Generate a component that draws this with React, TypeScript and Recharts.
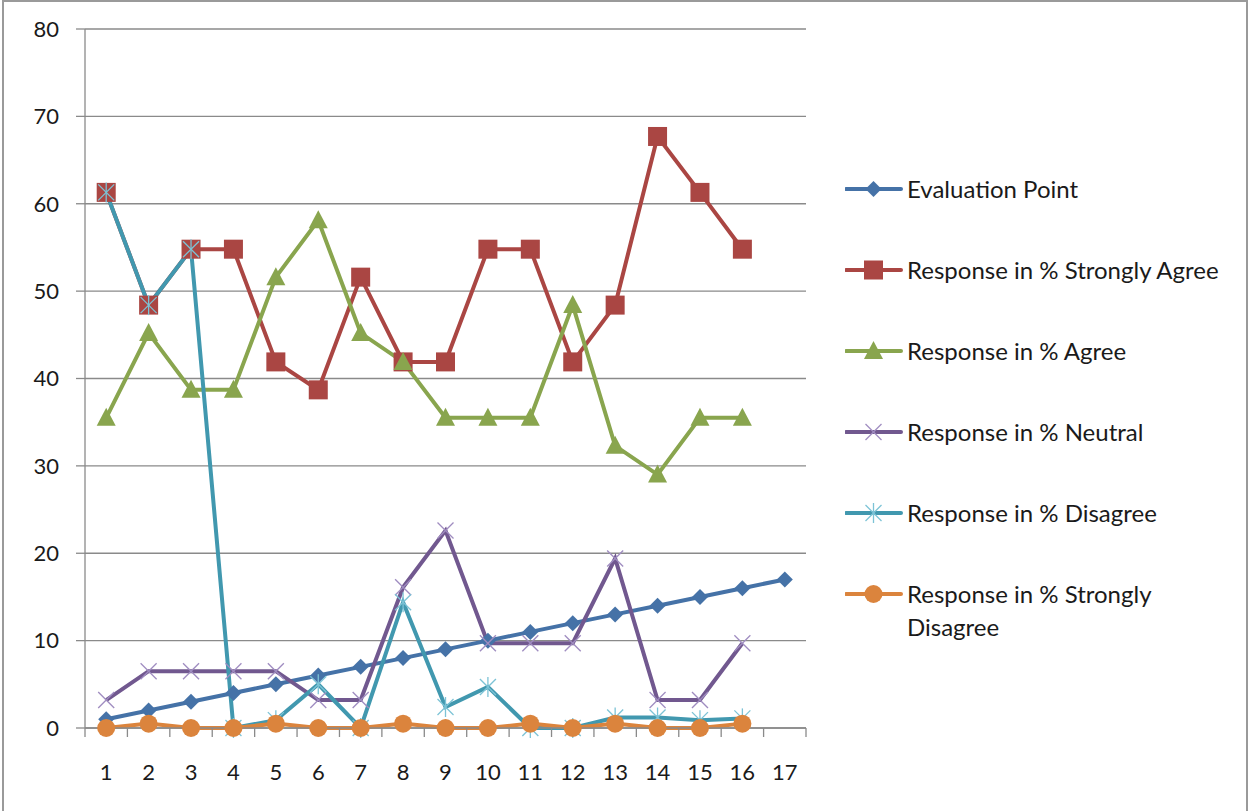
import { LineChart, Line, XAxis, YAxis, CartesianGrid } from "recharts"

const categories = [1, 2, 3, 4, 5, 6, 7, 8, 9, 10, 11, 12, 13, 14, 15, 16, 17]
const yTicks = [0, 10, 20, 30, 40, 50, 60, 70, 80]

const evaluationPoint = [1, 2, 3, 4, 5, 6, 7, 8, 9, 10, 11, 12, 13, 14, 15, 16, 17]
const stronglyAgree = [61.3, 48.4, 54.8, 54.8, 41.9, 38.7, 51.6, 41.9, 41.9, 54.8, 54.8, 41.9, 48.4, 67.7, 61.3, 54.8]
const agree = [35.5, 45.2, 38.7, 38.7, 51.6, 58.1, 45.2, 41.9, 35.5, 35.5, 35.5, 48.4, 32.3, 29.0, 35.5, 35.5]
const neutral = [3.2, 6.5, 6.5, 6.5, 6.5, 3.2, 3.2, 16.1, 22.6, 9.7, 9.7, 9.7, 19.4, 3.2, 3.2, 9.7]
const disagree = [61.3, 48.4, 54.8, 0, 0.9, 5.0, 0, 14.4, 2.4, 4.7, 0, 0, 1.2, 1.2, 0.9, 1.1]
const stronglyDisagree = [0, 0.5, 0, 0, 0.5, 0, 0, 0.5, 0, 0, 0.5, 0, 0.5, 0, 0, 0.5]

const series = [
  { key: "evaluation", name: "Evaluation Point", values: evaluationPoint, color: "#4572A7", marker: "diamond" },
  { key: "stronglyAgree", name: "Response in % Strongly Agree", values: stronglyAgree, color: "#AA4643", marker: "square" },
  { key: "agree", name: "Response in % Agree", values: agree, color: "#89A54E", marker: "triangle" },
  { key: "neutral", name: "Response in % Neutral", values: neutral, color: "#71588F", marker: "x" },
  { key: "disagree", name: "Response in % Disagree", values: disagree, color: "#4198AF", marker: "star" },
  { key: "stronglyDisagree", name: "Response in % Strongly Disagree", values: stronglyDisagree, color: "#DB843D", marker: "circle" },
]

const data = categories.map((c, i) => {
  const row: Record<string, number | null> = { x: c }
  series.forEach((s) => {
    row[s.key] = i < s.values.length ? s.values[i] : null
  })
  return row
})

// tick marks sit between categories, like a category axis in a spreadsheet
const halfTicks = [categories[0] - 0.5, ...categories.map((c) => c + 0.5)]
const lastCategory = categories[categories.length - 1]

const GRID = "#8a8a8a"
const FONT = "Lato, 'Open Sans', sans-serif"

function Marker({ kind, cx, cy, color }: { kind: string; cx: number; cy: number; color: string }) {
  switch (kind) {
    case "diamond":
      return <polygon points={`${cx},${cy - 8} ${cx + 8},${cy} ${cx},${cy + 8} ${cx - 8},${cy}`} fill={color} />
    case "square":
      return <rect x={cx - 9.5} y={cy - 9.5} width={19} height={19} fill={color} />
    case "triangle":
      return <polygon points={`${cx},${cy - 10} ${cx + 9.5},${cy + 8} ${cx - 9.5},${cy + 8}`} fill={color} />
    case "x":
      return (
        <g stroke="#9f8cc0" strokeWidth={1.3}>
          <line x1={cx - 8} y1={cy - 8} x2={cx + 8} y2={cy + 8} />
          <line x1={cx - 8} y1={cy + 8} x2={cx + 8} y2={cy - 8} />
        </g>
      )
    case "star":
      return (
        <g stroke="#7cc3d6" strokeWidth={1.3}>
          <line x1={cx - 8} y1={cy - 8} x2={cx + 8} y2={cy + 8} />
          <line x1={cx - 8} y1={cy + 8} x2={cx + 8} y2={cy - 8} />
          <line x1={cx} y1={cy - 10} x2={cx} y2={cy + 10} />
        </g>
      )
    default:
      return <circle cx={cx} cy={cy} r={9} fill={color} />
  }
}

function makeDot(kind: string, color: string) {
  return (props: any) => {
    const { cx, cy, index } = props
    if (cx == null || cy == null || props.value == null) return <g key={`d-${kind}-${index}`} />
    return (
      <g key={`d-${kind}-${index}`}>
        <Marker kind={kind} cx={cx} cy={cy} color={color} />
      </g>
    )
  }
}

// label for category c is drawn half a step to the right of the tick at c - 0.5
function CategoryTick(props: any) {
  const { x, y, payload, width } = props
  const label = payload.value + 0.5
  if (label > lastCategory) return <g />
  const step = Number(width) / (halfTicks.length - 1)
  return (
    <text x={x + step / 2} y={y} dy="0.71em" textAnchor="middle" fill="#1a1a1a" fontSize={22} fontFamily={FONT}>
      {label}
    </text>
  )
}

function LegendBox() {
  return (
    <div style={{ position: "absolute", left: 845, top: 173, fontFamily: FONT, fontSize: 24, color: "#1a1a1a" }}>
      {series.map((s) => (
        <div key={s.key} style={{ display: "flex", alignItems: "flex-start", height: 81 }}>
          <svg width={62} height={32} style={{ flex: "none" }}>
            <line x1={1} y1={16} x2={56} y2={16} stroke={s.color} strokeWidth={4} strokeLinecap="round" />
            <Marker kind={s.marker} cx={28.5} cy={16} color={s.color} />
          </svg>
          <div style={{ lineHeight: "33px", width: 335, marginTop: -1 }}>{s.name}</div>
        </div>
      ))}
    </div>
  )
}

export default function App() {
  return (
    <div style={{ position: "absolute", left: 0, top: 0, width: 1252, height: 811, overflow: "hidden", background: "#fff" }}>
      <div
        style={{
          position: "absolute",
          left: 2,
          top: 0,
          width: 1246,
          height: 830,
          border: "2px solid #9a9a9a",
          boxSizing: "border-box",
        }}
      />
      <LineChart width={1252} height={811} data={data} margin={{ top: 29, right: 446, left: 0, bottom: 0 }}>
        <CartesianGrid vertical={false} stroke={GRID} strokeWidth={1.3} />
        <XAxis
          dataKey="x"
          type="number"
          domain={[0.5, 17.5]}
          ticks={halfTicks}
          interval={0}
          height={83}
          tickSize={9}
          tickMargin={27}
          axisLine={{ stroke: GRID, strokeWidth: 1.3 }}
          tickLine={{ stroke: GRID, strokeWidth: 1.3 }}
          tick={<CategoryTick />}
        />
        <YAxis
          domain={[0, 80]}
          ticks={yTicks}
          interval={0}
          width={85}
          tickSize={9}
          tickMargin={17}
          axisLine={{ stroke: GRID, strokeWidth: 1.3 }}
          tickLine={{ stroke: GRID, strokeWidth: 1.3 }}
          tick={{ fill: "#1a1a1a", fontSize: 22, fontFamily: FONT }}
        />
        {series.map((s) => (
          <Line
            key={s.key}
            type="linear"
            dataKey={s.key}
            name={s.name}
            stroke={s.color}
            strokeWidth={4}
            dot={makeDot(s.marker, s.color)}
            activeDot={false}
            isAnimationActive={false}
          />
        ))}
      </LineChart>
      <LegendBox />
    </div>
  )
}
